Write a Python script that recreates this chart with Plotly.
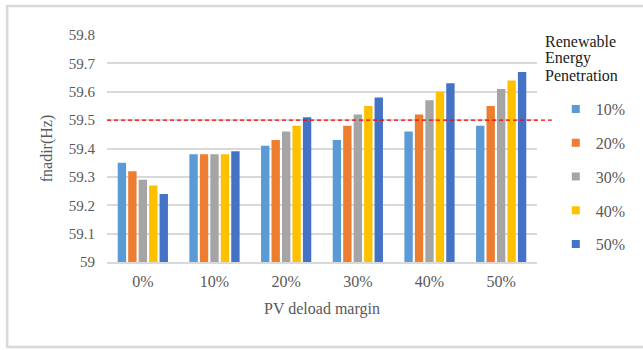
import plotly.graph_objects as go

# Category axis: PV deload margin
deload_margin = ["0%", "10%", "20%", "30%", "40%", "50%"]

# Frequency nadir (Hz) for each renewable energy penetration level
re_10 = [59.35, 59.38, 59.41, 59.43, 59.46, 59.48]
re_20 = [59.32, 59.38, 59.43, 59.48, 59.52, 59.55]
re_30 = [59.29, 59.38, 59.46, 59.52, 59.57, 59.61]
re_40 = [59.27, 59.38, 59.48, 59.55, 59.60, 59.64]
re_50 = [59.24, 59.39, 59.51, 59.58, 59.63, 59.67]

series_names = ["10%", "20%", "30%", "40%", "50%"]
series_values = [re_10, re_20, re_30, re_40, re_50]
series_colors = ["#5B9BD5", "#ED7D31", "#A5A5A5", "#FFC000", "#4472C4"]

legend_title_lines = ["Renewable", "Energy", "Penetration"]

threshold = 59.5
y_ticks = [59.0, 59.1, 59.2, 59.3, 59.4, 59.5, 59.6, 59.7, 59.8]
y_tick_text = ["59", "59.1", "59.2", "59.3", "59.4", "59.5", "59.6", "59.7", "59.8"]

SERIF = "'Liberation Serif', 'Times New Roman', serif"
GRAY_TEXT = "#595959"
GRID = "#D9D9D9"

# Margins place the plot area at x 107..542, y 35..262
L, R, T, B = 107, 101, 35, 88
W, H = 643, 350
pw, ph = W - L - R, H - T - B


def px_x(x):
    return (x - L) / pw


def px_y(y):
    return (H - B - y) / ph


fig = go.Figure()
for i, (name, vals, col) in enumerate(zip(series_names, series_values, series_colors)):
    fig.add_trace(go.Bar(
        x=deload_margin, y=vals, name=name,
        marker=dict(color=col, line=dict(width=0)),
        showlegend=False, legendgroup=f"g{i}",
    ))
# Legend keys: small square swatches for each series
for i, (name, col) in enumerate(zip(series_names, series_colors)):
    fig.add_trace(go.Scatter(
        x=[None], y=[None], mode="markers", name=name,
        marker=dict(symbol="square", size=8, color=col, line=dict(width=0)),
        legendgroup=f"g{i}", showlegend=True, hoverinfo="skip",
    ))

# Threshold line
fig.add_shape(type="line", xref="paper", yref="y",
              x0=0, x1=px_x(557), y0=threshold, y1=threshold,
              line=dict(color="#FF0000", width=1.3, dash="4px,3px"))

# Chart border
fig.add_shape(type="rect", xref="paper", yref="paper",
              x0=px_x(6), x1=px_x(660), y0=px_y(6), y1=px_y(347),
              line=dict(color="#D9D9D9", width=2.5), fillcolor="rgba(0,0,0,0)",
              layer="below")

# Legend heading
for line, ypix in zip(legend_title_lines, [41, 58, 75]):
    fig.add_annotation(text=line, xref="paper", yref="paper",
                       x=px_x(548), y=px_y(ypix), xanchor="left", yanchor="middle",
                       showarrow=False,
                       font=dict(family=SERIF, size=16, color="#1A1A1A"))

fig.update_layout(
    width=W, height=H,
    margin=dict(l=L, r=R, t=T, b=B, pad=0),
    paper_bgcolor="white", plot_bgcolor="white",
    barmode="group", bargap=0.27, bargroupgap=0.2,
    font=dict(family=SERIF, size=16, color=GRAY_TEXT),
    xaxis=dict(
        showgrid=False, showline=True, linecolor=GRID, linewidth=1.5,
        ticks="outside", ticklen=4, tickcolor="rgba(0,0,0,0)",
        tickfont=dict(family=SERIF, size=16, color=GRAY_TEXT),
        title=dict(text="PV deload margin", standoff=14,
                   font=dict(family=SERIF, size=16, color=GRAY_TEXT)),
    ),
    yaxis=dict(
        range=[59.0, 59.8], tickvals=y_ticks, ticktext=y_tick_text,
        showgrid=True, gridcolor=GRID, gridwidth=1.5, zeroline=False,
        ticks="outside", ticklen=8, tickcolor="rgba(0,0,0,0)",
        tickfont=dict(family=SERIF, size=15, color=GRAY_TEXT),
        title=dict(text="fnadir(Hz)", standoff=12,
                   font=dict(family=SERIF, size=16, color=GRAY_TEXT)),
    ),
    legend=dict(
        x=px_x(561), xanchor="left", y=px_y(92), yanchor="top",
        font=dict(family=SERIF, size=16, color=GRAY_TEXT),
        tracegroupgap=10, itemwidth=30, bgcolor="rgba(0,0,0,0)",
        maxheight=300,
    ),
    showlegend=True,
)

fig.write_html("out.html")
